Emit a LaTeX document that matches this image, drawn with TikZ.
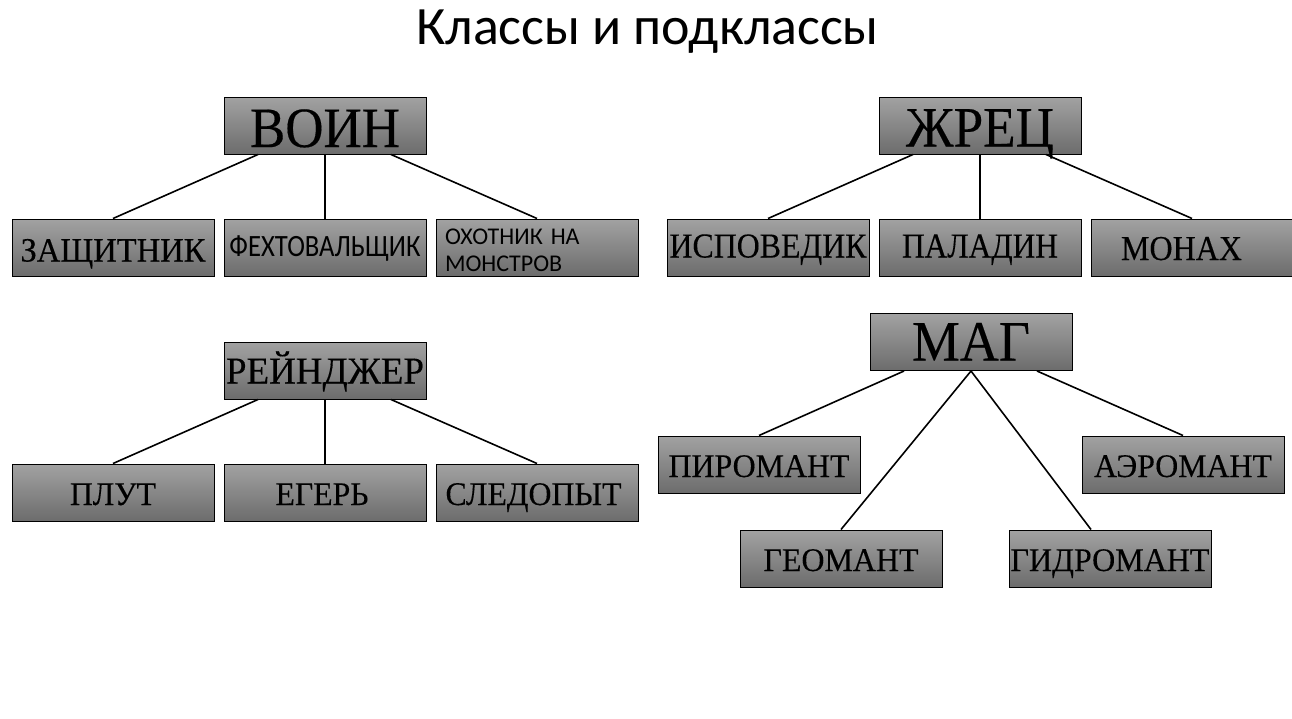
\documentclass[tikz,border=0pt]{standalone}
\usepackage{fontspec}
\usepackage{graphicx}
\newfontfamily\tnr[FakeBold=0.25]{Liberation Serif}
\newfontfamily\calfont{Carlito}
\definecolor{boxtop}{HTML}{A2A2A2}
\definecolor{boxbot}{HTML}{6C6C6C}
\newcommand{\fitw}[2]{\resizebox{#1}{\height}{#2}}
\begin{document}
\begin{tikzpicture}[x=1pt,y=-1pt,
 boxbase/.style={draw=black, line width=1pt, minimum width=202pt, minimum height=57pt, inner sep=0pt, top color=boxtop, bottom color=boxbot},
 bigl/.style={boxbase, font=\tnr\fontsize{57}{60}\selectfont, text height=40pt, text depth=0pt},
 midl/.style={boxbase, font=\tnr\fontsize{38}{42}\selectfont, text height=26pt, text depth=0pt},
 topl/.style={boxbase, font=\tnr\fontsize{35}{40}\selectfont, text height=22pt, text depth=2pt},
 lowl/.style={boxbase, font=\tnr\fontsize{33}{36}\selectfont, text height=25pt, text depth=0pt},
 link/.style={draw=black, line width=1.6pt}
]
\useasboundingbox (0,0) rectangle (1292,718);
\fill[white] (0,0) rectangle (1292,718);

\node[font=\calfont\fontsize{54}{60}\selectfont, anchor=base] (title) at (647.5,44) {Классы и подклассы};

% ВОИН
\node[bigl, text height=43pt] (voin) at (325,125.5) {\fitw{150pt}{ВОИН}};
\node[topl, font=\tnr\fontsize{34}{38}\selectfont, text height=28pt, text depth=0pt] (zasch) at (113,247.5) {\fitw{185pt}{ЗАЩИТНИК}};
\node[boxbase, font=\calfont\fontsize{31}{34}\selectfont, text height=20pt, text depth=2pt] (feht) at (325,247.5) {\fitw{191pt}{ФЕХТОВАЛЬЩИК}};
\node[boxbase, font=\calfont\fontsize{24}{27}\selectfont, text width=184pt, align=left] (ohot) at (537,247.5) {\rule{0pt}{21pt}ОХОТНИК НА\\МОНСТРОВ};
\draw[link] ([xshift=-67pt]voin.south) -- (zasch.north);
\draw[link] (voin.south) -- (feht.north);
\draw[link] ([xshift=66pt]voin.south) -- (ohot.north);

% ЖРЕЦ
\node[bigl, text height=42pt] (zhrec) at (980,125.5) {\fitw{148pt}{ЖРЕЦ}};
\node[topl] (isp) at (768,247.5) {\fitw{197pt}{ИСПОВЕДИК}};
\node[topl] (pal) at (980,247.5) {\fitw{156pt}{ПАЛАДИН}};
\node[topl, text height=25pt, text depth=0pt] (mon) at (1192,247.5) {\fitw{121pt}{МОНАХ}\hspace*{21pt}};
\draw[link] ([xshift=-67pt]zhrec.south) -- (isp.north);
\draw[link] (zhrec.south) -- (pal.north);
\draw[link] ([xshift=66pt]zhrec.south) -- (mon.north);

% РЕЙНДЖЕР
\node[midl] (reyn) at (325,370.5) {\fitw{198pt}{РЕЙНДЖЕР}};
\node[lowl] (plut) at (113,492.5) {\fitw{86pt}{ПЛУТ}};
\node[lowl] (eger) at (325,492.5) {\fitw{93pt}{ЕГЕРЬ}\hspace*{6pt}};
\node[lowl] (sled) at (537,492.5) {\fitw{176pt}{СЛЕДОПЫТ}\hspace*{7pt}};
\draw[link] ([xshift=-67pt]reyn.south) -- (plut.north);
\draw[link] (reyn.south) -- (eger.north);
\draw[link] ([xshift=66pt]reyn.south) -- (sled.north);

% МАГ
\node[bigl, text height=37pt] (mag) at (971,342) {\fitw{118pt}{МАГ}};
\node[lowl] (piro) at (759,464.5) {\fitw{181pt}{ПИРОМАНТ}};
\node[lowl] (aero) at (1183,464.5) {\fitw{178pt}{АЭРОМАНТ}};
\node[lowl] (geo) at (841,558.5) {\fitw{155pt}{ГЕОМАНТ}};
\node[lowl] (gidro) at (1110,558.5) {\fitw{199pt}{ГИДРОМАНТ}};
\draw[link] ([xshift=-67pt]mag.south) -- (piro.north);
\draw[link] (mag.south) -- (geo.north);
\draw[link] (mag.south) -- ([xshift=-19pt]gidro.north);
\draw[link] ([xshift=66pt]mag.south) -- (aero.north);
\end{tikzpicture}
\end{document}
